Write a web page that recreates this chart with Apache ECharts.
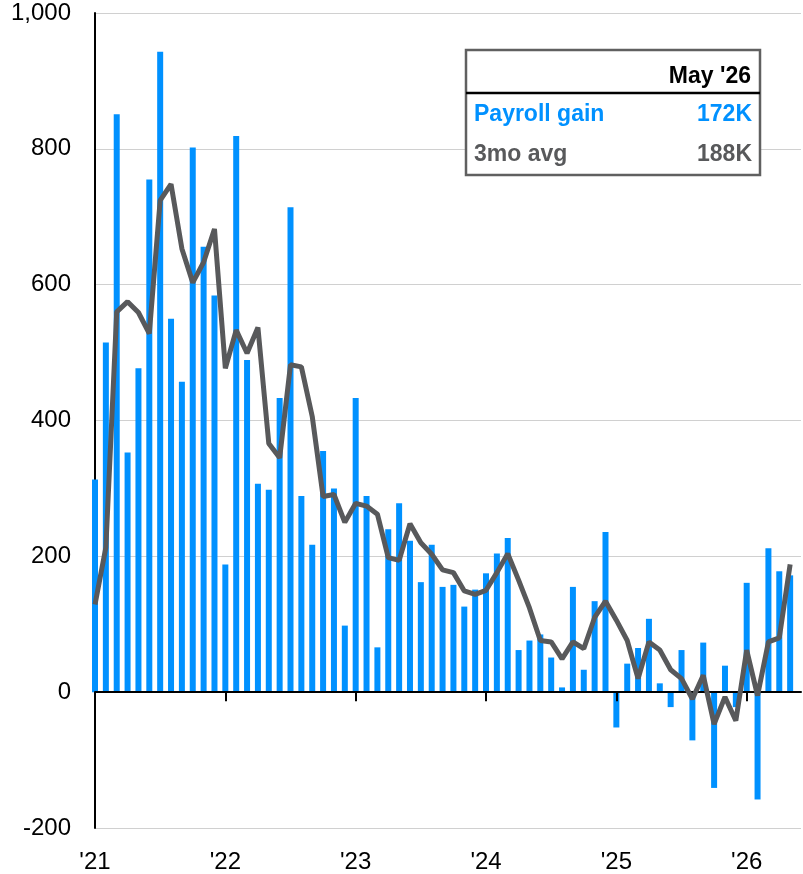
<!DOCTYPE html>
<html>
<head>
<meta charset="utf-8">
<script src="https://cdn.jsdelivr.net/npm/echarts@6/dist/echarts.min.js"></script>
<style>
  html, body { margin: 0; padding: 0; background: #fff; }
  #chart { width: 803px; height: 874px; }
</style>
</head>
<body>
<div id="chart"></div>
<script>
// 月度新增就业（千人），2021年1月 ~ 2026年5月
var payrollGain = [
  313, 515, 851, 353, 477, 755, 943, 550, 457, 802, 656, 584,
  188, 819, 489, 307, 298, 433, 714, 289, 217, 355, 300, 98,
  433, 289, 66, 240, 278, 223, 162, 217, 155, 158, 126, 151,
  175, 204, 227, 62, 76, 85, 51, 7, 155, 33, 134, 236,
  -52, 42, 65, 108, 13, -22, 62, -71, 73, -141, 39, -22,
  161, -158, 212, 178, 172
];
// 三个月平均
var avg3mo = [
  129, 213, 560, 575, 559, 528, 724, 748, 653, 603, 633, 682,
  477, 533, 499, 537, 366, 345, 482, 479, 406, 288, 291, 250,
  278, 274, 262, 198, 194, 248, 220, 203, 180, 176, 149, 144,
  150, 176, 204, 165, 124, 76, 74, 49, 74, 64, 110, 134,
  106, 76, 20, 74, 62, 33, 20, -10, 25, -47, -7, -42,
  62, -5, 74, 80, 188
];
// 年份刻度（月序号）和标签
var yearTicks = [0, 12, 24, 36, 48, 60];
var yearLabels = ["'21", "'22", "'23", "'24", "'25", "'26"];
var lastMonthLabel = "May '26";

var blue = '#0091FF';
var gray = '#58595B';
var font = "'Liberation Sans', Arial, sans-serif";

var chart = echarts.init(document.getElementById('chart'));

var barData = payrollGain.map(function (v, i) { return [i, v]; });
var lineData = avg3mo.map(function (v, i) { return [i, v]; });

var option = {
  animation: false,
  grid: { left: 95, right: 2, top: 13, bottom: 46 },
  xAxis: [{
    // 零线和年份刻度
    type: 'value',
    min: 0,
    max: 65,
    position: 'bottom',
    z: 3,
    axisLine: { show: true, onZero: true, lineStyle: { color: '#000', width: 2 } },
    axisTick: { show: true, customValues: yearTicks, length: 9, lineStyle: { color: '#000', width: 2 } },
    axisLabel: { show: false },
    splitLine: { show: false }
  }, {
    // 底部年份标签
    type: 'value',
    min: 0,
    max: 65,
    position: 'bottom',
    axisLine: { show: false, onZero: false },
    axisTick: { show: false },
    axisLabel: {
      show: true,
      customValues: yearTicks,
      margin: 22,
      fontSize: 24,
      color: '#000',
      fontFamily: font,
      formatter: function (v) {
        return yearLabels[yearTicks.indexOf(v)] || '';
      }
    },
    splitLine: { show: false }
  }],
  yAxis: {
    type: 'value',
    min: -200,
    max: 1000,
    interval: 200,
    axisLine: { show: true, onZero: false, lineStyle: { color: '#000', width: 2 } },
    axisTick: { show: false },
    axisLabel: { margin: 24, fontSize: 24, color: '#000', fontFamily: font },
    splitLine: { show: true, lineStyle: { color: '#d0d0d0', width: 1 } }
  },
  series: [{
    name: 'Payroll gain',
    type: 'bar',
    barWidth: 6,
    itemStyle: { color: blue },
    z: 2,
    data: barData
  }, {
    name: '3mo avg',
    type: 'line',
    showSymbol: false,
    symbol: 'none',
    lineStyle: { color: gray, width: 5 },
    z: 4,
    data: lineData
  }],
  // 右上角数值框
  graphic: [{
    type: 'rect',
    shape: { x: 466, y: 50, width: 294, height: 125 },
    style: { fill: '#fff', stroke: '#606060', lineWidth: 2.5 },
    z: 100
  }, {
    type: 'line',
    shape: { x1: 466, y1: 93, x2: 760, y2: 93 },
    style: { stroke: '#000', lineWidth: 2.5 },
    z: 101
  }, {
    type: 'text',
    x: 751, y: 77,
    style: { text: lastMonthLabel, fill: '#000', font: 'bold 23px ' + font, textAlign: 'right', textVerticalAlign: 'middle' },
    z: 101
  }, {
    type: 'text',
    x: 474, y: 115,
    style: { text: 'Payroll gain', fill: blue, font: 'bold 23px ' + font, textAlign: 'left', textVerticalAlign: 'middle' },
    z: 101
  }, {
    type: 'text',
    x: 752, y: 115,
    style: { text: payrollGain[payrollGain.length - 1] + 'K', fill: blue, font: 'bold 23px ' + font, textAlign: 'right', textVerticalAlign: 'middle' },
    z: 101
  }, {
    type: 'text',
    x: 474, y: 155,
    style: { text: '3mo avg', fill: gray, font: 'bold 23px ' + font, textAlign: 'left', textVerticalAlign: 'middle' },
    z: 101
  }, {
    type: 'text',
    x: 752, y: 155,
    style: { text: avg3mo[avg3mo.length - 1] + 'K', fill: gray, font: 'bold 23px ' + font, textAlign: 'right', textVerticalAlign: 'middle' },
    z: 101
  }]
};

chart.setOption(option);
</script>
</body>
</html>
